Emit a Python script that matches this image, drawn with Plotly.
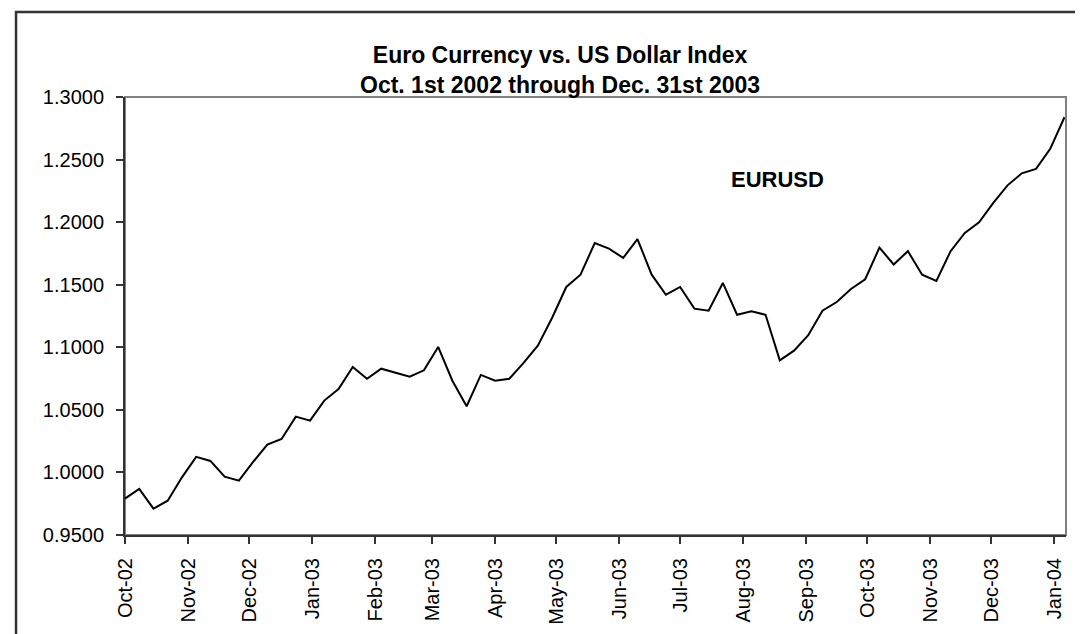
import pandas as pd
import plotly.graph_objects as go

FONT = "Liberation Sans, Arial, sans-serif"

# weekly observations, first one on Oct 1st 2002
start_date = "2002-10-01"
n_weeks = 67
dates = pd.date_range(start_date, periods=n_weeks, freq="7D")

eurusd = [
    0.9791, 0.9868, 0.9711, 0.9774, 0.9961, 1.0124, 1.0092, 0.9966, 0.9934, 1.0084,
    1.0222, 1.0267, 1.0446, 1.0414, 1.0574, 1.0667, 1.0843, 1.0749, 1.0829, 1.0797,
    1.0765, 1.0816, 1.1003, 1.0733, 1.0529, 1.0779, 1.0733, 1.0749, 1.0875, 1.1013,
    1.1234, 1.1482, 1.1580, 1.1833, 1.1788, 1.1714, 1.1865, 1.1580, 1.1420, 1.1482,
    1.1309, 1.1293, 1.1514, 1.1260, 1.1288, 1.1260, 1.0896, 1.0973, 1.1096, 1.1292,
    1.1362, 1.1466, 1.1544, 1.1796, 1.1662, 1.1768, 1.1580, 1.1530, 1.1768, 1.1914,
    1.1998, 1.2154, 1.2294, 1.2390, 1.2426, 1.2586, 1.2838,
]

title_lines = ["Euro Currency vs. US Dollar Index", "Oct. 1st 2002 through Dec. 31st 2003"]
series_label = "EURUSD"

fig = go.Figure()
fig.add_trace(go.Scatter(
    x=dates,
    y=eurusd,
    mode="lines",
    line=dict(color="black", width=2),
    name=series_label,
    showlegend=False,
))

# plot area box (top/right in grey, axes drawn on top in dark grey)
fig.add_shape(type="rect", xref="paper", yref="paper", x0=0, x1=1, y0=0, y1=1,
              line=dict(color="#808080", width=2), layer="below")
# outer chart frame
fig.add_shape(type="rect", xref="paper", yref="paper", x0=-0.1158, x1=1.0244, y0=-0.3, y1=1.194,
              line=dict(color="#333333", width=2.5), layer="below")

fig.add_annotation(text="<br>".join(f"<b>{t}</b>" for t in title_lines),
                   xref="paper", yref="paper", x=0.462, y=1.0, yshift=-3,
                   xanchor="center", yanchor="bottom", showarrow=False, align="center",
                   font=dict(family=FONT, size=23, color="black"))
fig.add_annotation(text=f"<b>{series_label}</b>", xref="paper", yref="y",
                   x=0.693, y=1.2337, xanchor="center", yanchor="middle", showarrow=False,
                   font=dict(family=FONT, size=22, color="black"))

fig.update_layout(
    width=1083,
    height=634,
    plot_bgcolor="white",
    paper_bgcolor="white",
    margin=dict(l=117, r=25, t=89, b=107),
    font=dict(family=FONT, size=20, color="black"),
    xaxis=dict(
        type="date",
        range=["2002-10-01", "2004-01-06 18:00"],
        tick0="2002-10-01",
        dtick="M1",
        tickformat="%b-%y",
        tickangle=-90,
        ticks="outside",
        ticklen=7,
        tickwidth=1.5,
        tickcolor="#333333",
        ticklabelstandoff=6,
        showline=True,
        linecolor="#333333",
        linewidth=2,
        showgrid=False,
        zeroline=False,
        automargin=False,
        tickfont=dict(family=FONT, size=20, color="black"),
    ),
    yaxis=dict(
        range=[0.95, 1.30],
        dtick=0.05,
        tick0=0.95,
        tickformat=".4f",
        ticks="outside",
        ticklen=7,
        tickwidth=1.5,
        tickcolor="#333333",
        ticklabelstandoff=8,
        showline=True,
        linecolor="#333333",
        linewidth=2,
        showgrid=False,
        zeroline=False,
        automargin=False,
        tickfont=dict(family=FONT, size=20, color="black"),
    ),
)

fig.write_html("out.html")
